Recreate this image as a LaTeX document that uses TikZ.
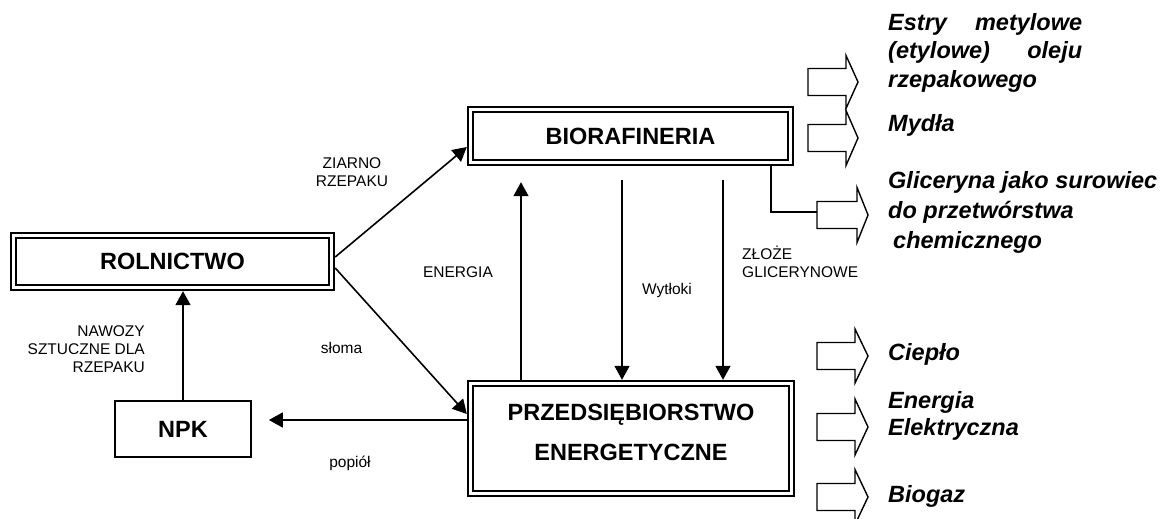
\documentclass[tikz,border=0pt]{standalone}
\usepackage{fontspec}
\setmainfont{Liberation Sans}
\usetikzlibrary{arrows.meta}
\tikzset{
  dbox/.style={draw, line width=2.6pt, double distance=2.2pt, double=white,
    inner sep=0pt, outer sep=3.7pt, align=center,
    font=\bfseries\fontsize{23.5}{40}\selectfont},
  sbox/.style={draw, line width=1.7pt, inner sep=0pt, outer sep=0.85pt,
    font=\bfseries\fontsize{23.5}{28}\selectfont},
  conn/.style={line width=1.6pt, -{Triangle[length=14pt,width=15pt]}},
  plain/.style={line width=1.6pt},
  lab/.style={inner sep=0pt, align=center, font=\fontsize{15.5}{18}\selectfont},
  outtext/.style={inner sep=0pt, align=left, anchor=north west,
    font=\bfseries\itshape\fontsize{23.5}{29}\selectfont},
  barrow/.style={line width=1.4pt, line join=miter}
}
\newcommand\blockarrow[5]{% x, y, shaft length, head length, head half height
  \draw[barrow, shift={(#1,#2)}] (0,-13.5) -- (#3,-13.5) -- (#3,-#5) -- ({#3+#4},0)
    -- (#3,#5) -- (#3,13.5) -- (0,13.5) -- cycle;}
\begin{document}
\begin{tikzpicture}[x=1pt,y=-1pt]
\useasboundingbox (0,0) rectangle (1165,519);

% boxes
\node[dbox, minimum width=320, minimum height=53] (bio) at (630.5,136) {BIORAFINERIA};
\node[dbox, minimum width=318, minimum height=52] (rol) at (172.5,261.5) {ROLNICTWO};
\node[dbox, minimum width=321, minimum height=110, text depth=13pt] (prz) at (631,438.5)
  {PRZEDSIĘBIORSTWO\\ENERGETYCZNE};
\node[sbox, minimum width=136, minimum height=56] (npk) at (183,429) {NPK};

% connectors
\draw[conn] (rol.east |- 0,257) -- (bio.west |- 0,147);
\draw[conn] (rol.east |- 0,268) -- (prz.west |- 0,414);
\draw[conn, shorten >=16pt] (prz.north -| 521,0) -- (bio.south -| 521,0);
\draw[conn, shorten <=14pt] (bio.south -| 622,0) -- (prz.north -| 622,0);
\draw[conn, shorten <=14pt] (bio.south -| 723,0) -- (prz.north -| 723,0);
\draw[conn] (npk.north) -- (rol.south -| npk.north);
\draw[conn, shorten >=17pt] (prz.west |- 0,420) -- (npk.east |- 0,420);

% output block arrows
\blockarrow{808}{82}{38}{12}{26.5}
\blockarrow{808}{138}{38}{12}{27.5}
\blockarrow{817}{215}{40}{11}{27.5}
\blockarrow{817}{356}{38}{13}{27}
\blockarrow{817}{427}{38}{13}{28}
\blockarrow{817}{497}{38}{13}{27.5}
\coordinate (glin) at (817,212);
\draw[plain] (bio.south -| 771,0) |- (glin);

% connector labels
\node[lab] (lziarno) at (352,172) {ZIARNO\\RZEPAKU};
\node[lab] (lenergia) at (458,272) {ENERGIA};
\node[lab] (lwyt) at (667,290) {Wytłoki};
\node[lab, align=left, anchor=west] (lzloze) at (742,262) {ZŁOŻE\\GLICERYNOWE};
\node[lab] (lsloma) at (341.5,348) {słoma};
\node[lab, align=right, anchor=east] (lnawozy) at (145,349.5) {NAWOZY\\SZTUCZNE DLA\\RZEPAKU};
\node[lab] (lpopiol) at (350,463) {popiół};

% output texts
\node[outtext, font=\bfseries\itshape\fontsize{23.5}{28.5}\selectfont] (testry) at (888,13.2)
  {\hbox to 194pt{Estry\hfill metylowe}\\\hbox to 194pt{(etylowe)\hfill oleju}\\rzepakowego};
\node[outtext] (tmydla) at (888,114.2) {Mydła};
\node[outtext, font=\bfseries\itshape\fontsize{23.5}{30}\selectfont] (tglic) at (888,171)
  {Gliceryna jako surowiec\\do przetwórstwa\\\hspace*{5pt}chemicznego};
\node[outtext] (tciep) at (888,343) {Ciepło};
\node[outtext, font=\bfseries\itshape\fontsize{23.5}{27}\selectfont] (tener) at (888,391)
  {Energia\\Elektryczna};
\node[outtext] (tbiog) at (888,485) {Biogaz};
\end{tikzpicture}
\end{document}
